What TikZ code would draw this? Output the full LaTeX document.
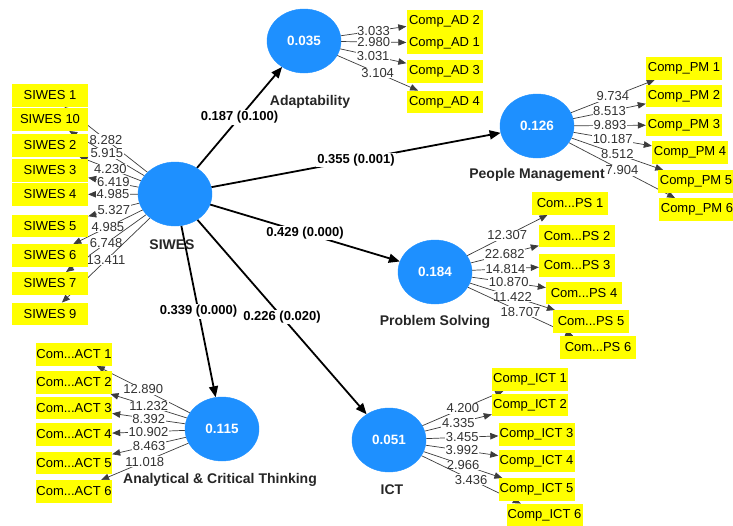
\documentclass[tikz,border=0pt]{standalone}
\usepackage{fontspec}
\setmainfont{Liberation Sans}
\usepackage{xcolor}
\usetikzlibrary{arrows.meta,backgrounds,shapes.geometric}
\definecolor{lvBlue}{HTML}{1E90FF}
\definecolor{mvYellow}{HTML}{FFFF00}
\definecolor{ldGray}{HTML}{3C3C3C}

\begin{document}
\begin{tikzpicture}[x=1pt,y=-1pt,
  lv/.style={ellipse,fill=lvBlue,draw=lvBlue,minimum width=74pt,minimum height=64pt,inner sep=0pt,text=white,font=\fontsize{13.5}{15}\selectfont\bfseries},
  mv/.style={rectangle,fill=mvYellow,minimum width=76pt,minimum height=22.5pt,inner sep=0pt,font=\fontsize{13}{15}\selectfont},
  lvname/.style={font=\fontsize{14}{16}\selectfont\bfseries,text=black!85},
  load/.style={draw=ldGray,line width=0.7pt,-{Triangle[length=8pt,width=6.5pt]}},
  struct/.style={draw=black,line width=1.8pt,-{Triangle[length=11pt,width=9pt]}},
  lw/.style={midway,fill=white,inner sep=0.6pt,font=\fontsize{13}{15}\selectfont,text=black!80},
  pw/.style={midway,fill=white,inner sep=1pt,font=\fontsize{13}{15}\selectfont\bfseries}]
  \useasboundingbox (0,0) rectangle (733,525);
  \clip (0,0) rectangle (733,525);

  \node[lv] (siwes) at (175,194) {};
  \node[lvname] (siwesname) at (172,245) {SIWES};
  \node[lv] (adapt) at (304,41) {0.035};
  \node[lvname] (adaptname) at (310,102) {Adaptability};
  \node[lv] (peop) at (537,126) {0.126};
  \node[lvname] (peopname) at (537,175) {People Management};
  \node[lv] (prob) at (435,272) {0.184};
  \node[lvname] (probname) at (435,322) {Problem Solving};
  \node[lv] (anal) at (222,429) {0.115};
  \node[lvname] (analname) at (220,480) {Analytical \& Critical Thinking};
  \node[lv] (ict) at (389,440) {0.051};
  \node[lvname] (ictname) at (392,490) {ICT};

  \node[mv] (s1) at (50,95.5) {SIWES 1};
  \node[mv] (s10) at (50,119.5) {SIWES 10};
  \node[mv] (s2) at (50,145.5) {SIWES 2};
  \node[mv] (s3) at (50,170.5) {SIWES 3};
  \node[mv] (s4) at (50,194.5) {SIWES 4};
  \node[mv] (s5) at (50,226) {SIWES 5};
  \node[mv] (s6) at (50,255.5) {SIWES 6};
  \node[mv] (s7) at (50,283.5) {SIWES 7};
  \node[mv] (s9) at (50,314) {SIWES 9};

  \node[mv] (ad2) at (444.5,21) {Comp\_AD 2};
  \node[mv] (ad1) at (444.5,43) {Comp\_AD 1};
  \node[mv] (ad3) at (444.5,71.5) {Comp\_AD 3};
  \node[mv] (ad4) at (444.5,102) {Comp\_AD 4};

  \node[mv] (pm1) at (684,68.5) {Comp\_PM 1};
  \node[mv] (pm2) at (684,96) {Comp\_PM 2};
  \node[mv] (pm3) at (684,125) {Comp\_PM 3};
  \node[mv] (pm4) at (690,152.5) {Comp\_PM 4};
  \node[mv] (pm5) at (696,181.5) {Comp\_PM 5};
  \node[mv] (pm6) at (697,209.5) {Comp\_PM 6};

  \node[mv] (ps1) at (570,203.5) {Com...PS 1};
  \node[mv] (ps2) at (577,236) {Com...PS 2};
  \node[mv] (ps3) at (577,265.5) {Com...PS 3};
  \node[mv] (ps4) at (584,293) {Com...PS 4};
  \node[mv] (ps5) at (591,321.5) {Com...PS 5};
  \node[mv] (ps6) at (598,347.5) {Com...PS 6};

  \node[mv] (act1) at (74,354.5) {Com...ACT 1};
  \node[mv] (act2) at (74,382.5) {Com...ACT 2};
  \node[mv] (act3) at (74,408) {Com...ACT 3};
  \node[mv] (act4) at (74,434.5) {Com...ACT 4};
  \node[mv] (act5) at (74,463) {Com...ACT 5};
  \node[mv] (act6) at (74,491.5) {Com...ACT 6};

  \node[mv] (ict1) at (530,379.5) {Comp\_ICT 1};
  \node[mv] (ict2) at (530,405) {Comp\_ICT 2};
  \node[mv] (ict3) at (536.5,434.5) {Comp\_ICT 3};
  \node[mv] (ict4) at (536.5,461) {Comp\_ICT 4};
  \node[mv] (ict5) at (536.5,489.5) {Comp\_ICT 5};
  \node[mv] (ict6) at (544.5,515) {Comp\_ICT 6};

  \begin{scope}[on background layer]
    \fill[white] (0,0) rectangle (733,525);

    \draw[load] (siwes) -- node[lw]{8.282} (s1);
    \draw[load] (siwes) -- node[lw]{5.915} (s10);
    \draw[load] (siwes) -- node[lw]{4.230} (s2);
    \draw[load] (siwes) -- node[lw]{6.419} (s3);
    \draw[load] (siwes) -- node[lw]{4.985} (s4);
    \draw[load] (siwes) -- node[lw]{5.327} (s5);
    \draw[load] (siwes) -- node[lw]{4.985} (s6);
    \draw[load] (siwes) -- node[lw]{6.748} (s7);
    \draw[load] (siwes) -- node[lw]{13.411} (s9);

    \draw[load] (adapt) -- node[lw]{3.033} (ad2);
    \draw[load] (adapt) -- node[lw]{2.980} (ad1);
    \draw[load] (adapt) -- node[lw]{3.031} (ad3);
    \draw[load] (adapt) -- node[lw]{3.104} (ad4);

    \draw[load] (peop) -- node[lw]{9.734} (pm1);
    \draw[load] (peop) -- node[lw]{8.513} (pm2);
    \draw[load] (peop) -- node[lw]{9.893} (pm3);
    \draw[load] (peop) -- node[lw]{10.187} (pm4);
    \draw[load] (peop) -- node[lw]{8.512} (pm5);
    \draw[load] (peop) -- node[lw]{7.904} (pm6);

    \draw[load] (prob) -- node[lw]{12.307} (ps1);
    \draw[load] (prob) -- node[lw]{22.682} (ps2);
    \draw[load] (prob) -- node[lw]{14.814} (ps3);
    \draw[load] (prob) -- node[lw]{10.870} (ps4);
    \draw[load] (prob) -- node[lw]{11.422} (ps5);
    \draw[load] (prob) -- node[lw]{18.707} (ps6);

    \draw[load] (anal) -- node[lw]{12.890} (act1);
    \draw[load] (anal) -- node[lw]{11.232} (act2);
    \draw[load] (anal) -- node[lw]{8.392} (act3);
    \draw[load] (anal) -- node[lw]{10.902} (act4);
    \draw[load] (anal) -- node[lw]{8.463} (act5);
    \draw[load] (anal) -- node[lw]{11.018} (act6);

    \draw[load] (ict) -- node[lw]{4.200} (ict1);
    \draw[load] (ict) -- node[lw]{4.335} (ict2);
    \draw[load] (ict) -- node[lw]{3.455} (ict3);
    \draw[load] (ict) -- node[lw]{3.992} (ict4);
    \draw[load] (ict) -- node[lw]{2.966} (ict5);
    \draw[load] (ict) -- node[lw]{3.436} (ict6);

    \draw[struct] (siwes) -- node[pw]{0.187 (0.100)} (adapt);
    \draw[struct] (siwes) -- node[pw]{0.355 (0.001)} (peop);
    \draw[struct] (siwes) -- node[pw]{0.429 (0.000)} (prob);
    \draw[struct] (siwes) -- node[pw]{0.339 (0.000)} (anal);
    \draw[struct] (siwes) -- node[pw]{0.226 (0.020)} (ict);
  \end{scope}
\end{tikzpicture}
\end{document}
